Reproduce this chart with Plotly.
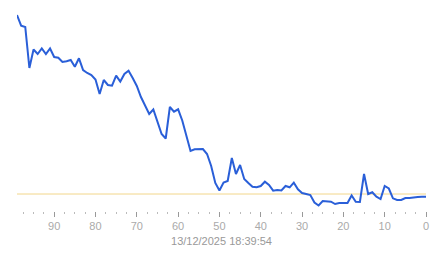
import plotly.graph_objects as go

# x positions (seconds ago), from oldest to newest
x_vals = list(range(99, -1, -1))

# series values (relative units, threshold = 0)
series_vals = [
    179, 168.3, 167, 126, 144.5, 140, 145.5, 140, 145.5, 137,
    136.3, 132, 132.7, 134, 127.3, 135.7, 124, 121, 119, 114.5,
    100, 114, 109, 108.3, 118.3, 112.5, 120, 123.3, 116, 108,
    97, 88, 80, 84.5, 72.5, 60, 55.5, 87, 82.3, 84.7,
    73.5, 59.3, 43, 44.7, 45.2, 45, 40, 28, 11, 3.5,
    11.5, 13, 36, 20, 29, 15, 11, 7.3, 6.7, 8,
    12.3, 9, 3.3, 4, 3.5, 8, 6.7, 11.3, 4.7, 1,
    0, -1, -8.5, -11.5, -7, -7.5, -7.7, -10, -9, -9,
    -9, -1.5, -7.7, -8, 20, 0, 1.7, -2.7, -5, 8,
    5.5, -4.3, -6, -6, -4, -4, -3.3, -3, -2.7, -2.7,
]

threshold_vals = [0] * len(x_vals)

tick_vals = [90, 80, 70, 60, 50, 40, 30, 20, 10, 0]
tick_text = ["90", "80", "70", "60", "50", "40", "30", "20", "10", "0"]
timestamp = "13/12/2025 18:39:54"

fig = go.Figure()
fig.add_trace(go.Scatter(
    x=x_vals, y=threshold_vals, mode="lines",
    line=dict(color="#f2d68a", width=1), hoverinfo="skip", showlegend=False,
))
fig.add_trace(go.Scatter(
    x=x_vals, y=series_vals, mode="lines",
    line=dict(color="#2a5fd8", width=2), showlegend=False,
))

fig.update_layout(
    width=443, height=258,
    margin=dict(l=17, r=17, t=10, b=47),
    paper_bgcolor="white", plot_bgcolor="white",
    font=dict(family="Arial, Liberation Sans, sans-serif", size=11, color="#999999"),
    xaxis=dict(
        range=[99, 0], showgrid=False, zeroline=False, showline=False,
        tickvals=tick_vals, ticktext=tick_text,
        ticks="outside", ticklen=5, tickwidth=1, tickcolor="#999999",
        tickfont=dict(size=11, color="#aaaaaa"),
        minor=dict(dtick=2.5, tick0=0, ticks="outside", ticklen=2, tickwidth=1,
                   tickcolor="#bbbbbb", showgrid=False),
        title=dict(text=timestamp, font=dict(size=11, color="#999999"), standoff=6),
    ),
    yaxis=dict(
        range=[-17, 184], showgrid=False, zeroline=False, showline=False,
        showticklabels=False, ticks="",
    ),
)

fig.write_html("out.html")
